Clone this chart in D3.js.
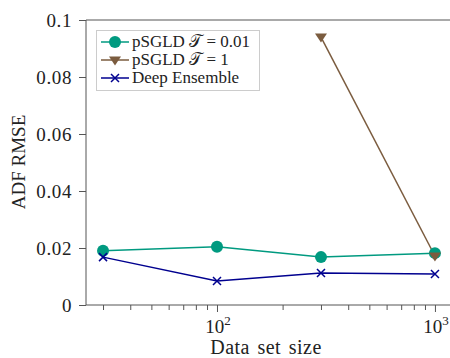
<!DOCTYPE html>
<html><head><meta charset="utf-8">
<script src="https://cdn.jsdelivr.net/npm/d3@7"></script>
<style>body{margin:0;background:#fff;overflow:hidden}svg{display:block}text{font-family:"Liberation Serif","DejaVu Serif",serif;fill:#222}</style>
</head><body>
<svg id="c" width="450" height="358"></svg>
<script>
const sizes = [30, 100, 300, 1000];
const teal = [0.0190, 0.0204, 0.0168, 0.0182];
const brownX = [300, 1000];
const brown = [0.094, 0.0172];
const navy = [0.0168, 0.0084, 0.0112, 0.0109];
const yTicks = [0, 0.02, 0.04, 0.06, 0.08, 0.1];
const yTickLabels = ["0", "0.02", "0.04", "0.06", "0.08", "0.1"];
const xMajor = [100, 1000];
const xMinor = [30,40,50,60,70,80,90,200,300,400,500,600,700,800,900];
const legendLabels = ["pSGLD \u{1D4AF} = 0.01", "pSGLD \u{1D4AF} = 1", "Deep Ensemble"];
const colors = ["#009a80", "#7b5c3f", "#00008f"];

const svg = d3.select("#c");
const L = 86, R = 460, T = 20, B = 305;
const x = d3.scaleLog().domain([25.06, 1303]).range([L, R]);
const y = d3.scaleLinear().domain([0, 0.1]).range([B, T]);
const axisCol = "#555";

// axes frame
const g = svg.append("g");
g.append("line").attr("x1",L).attr("x2",L).attr("y1",T).attr("y2",B).attr("stroke",axisCol);
g.append("line").attr("x1",L).attr("x2",R).attr("y1",B).attr("y2",B).attr("stroke",axisCol);
g.append("line").attr("x1",L).attr("x2",R).attr("y1",T).attr("y2",T).attr("stroke",axisCol);

const ya = d3.axisLeft(y).tickValues(yTicks).tickFormat((d,i)=>yTickLabels[i]).tickSize(7).tickPadding(7);
const yg = svg.append("g").attr("transform",`translate(${L},0)`).call(ya);
yg.select(".domain").remove();
yg.selectAll(".tick line").attr("stroke",axisCol);
yg.selectAll("text").style("font-size","19px").style("letter-spacing","0.6px").attr("fill","#222").attr("font-family","Liberation Serif");

const xa = d3.axisBottom(x).tickValues(xMajor).tickFormat(()=>"").tickSize(7);
const xg = svg.append("g").attr("transform",`translate(0,${B})`).call(xa);
xg.select(".domain").remove();
xg.selectAll(".tick line").attr("stroke",axisCol);
const xm = d3.axisBottom(x).tickValues(xMinor).tickFormat(()=>"").tickSize(5);
const xmg = svg.append("g").attr("transform",`translate(0,${B})`).call(xm);
xmg.select(".domain").remove();
xmg.selectAll(".tick line").attr("stroke",axisCol);
xMajor.forEach(v=>{
  const t = svg.append("text").attr("x",x(v)+1).attr("y",333).attr("text-anchor","middle").style("font-size","19px");
  t.append("tspan").text("10");
  t.append("tspan").attr("dy",-8).style("font-size","13px").text(String(Math.round(Math.log10(v))));
});

svg.append("text").attr("x",266).attr("y",354).attr("text-anchor","middle")
  .style("font-size","20px").style("word-spacing","2px").style("letter-spacing","0.5px").text("Data set size");
svg.append("text").attr("transform",`translate(25,162) rotate(-90)`).attr("text-anchor","middle")
  .style("font-size","19px").text("ADF RMSE");

const line = d3.line().x(d=>x(d[0])).y(d=>y(d[1]));
const tealD = sizes.map((s,i)=>[s,teal[i]]);
const brownD = brownX.map((s,i)=>[s,brown[i]]);
const navyD = sizes.map((s,i)=>[s,navy[i]]);

function drawCircle(sel, cx, cy, c){ sel.append("circle").attr("cx",cx).attr("cy",cy).attr("r",6).attr("fill",c); }
function drawTri(sel, cx, cy, c){ const s=6; sel.append("path").attr("d",`M${cx-s},${cy-s*0.6}L${cx+s},${cy-s*0.6}L${cx},${cy+s*0.9}Z`).attr("fill",c); }
function drawX(sel, cx, cy, c){ const s=4; sel.append("path").attr("d",`M${cx-s},${cy-s}L${cx+s},${cy+s}M${cx-s},${cy+s}L${cx+s},${cy-s}`).attr("stroke",c).attr("stroke-width",1.5); }

const pg = svg.append("g");
pg.append("path").datum(navyD).attr("d",line).attr("fill","none").attr("stroke",colors[2]).attr("stroke-width",1.5);
pg.append("path").datum(tealD).attr("d",line).attr("fill","none").attr("stroke",colors[0]).attr("stroke-width",1.5);
pg.append("path").datum(brownD).attr("d",line).attr("fill","none").attr("stroke",colors[1]).attr("stroke-width",1.5);
tealD.forEach(d=>drawCircle(pg,x(d[0]),y(d[1]),colors[0]));
brownD.forEach(d=>drawTri(pg,x(d[0]),y(d[1]),colors[1]));
navyD.forEach(d=>drawX(pg,x(d[0]),y(d[1]),colors[2]));

// legend
const lg = svg.append("g");
lg.append("rect").attr("x",96.5).attr("y",30.5).attr("width",163).attr("height",60).attr("fill","#fff").attr("stroke","#ccc");
const ly = [42, 60, 78];
const markers = [drawCircle, drawTri, drawX];
legendLabels.forEach((lab,i)=>{
  lg.append("line").attr("x1",101).attr("x2",129).attr("y1",ly[i]).attr("y2",ly[i]).attr("stroke",colors[i]).attr("stroke-width",1.5);
  markers[i](lg,115,ly[i],colors[i]);
  lg.append("text").attr("x",132).attr("y",ly[i]+4.5).style("font-size","17px").text(lab);
});
</script>
</body></html>
